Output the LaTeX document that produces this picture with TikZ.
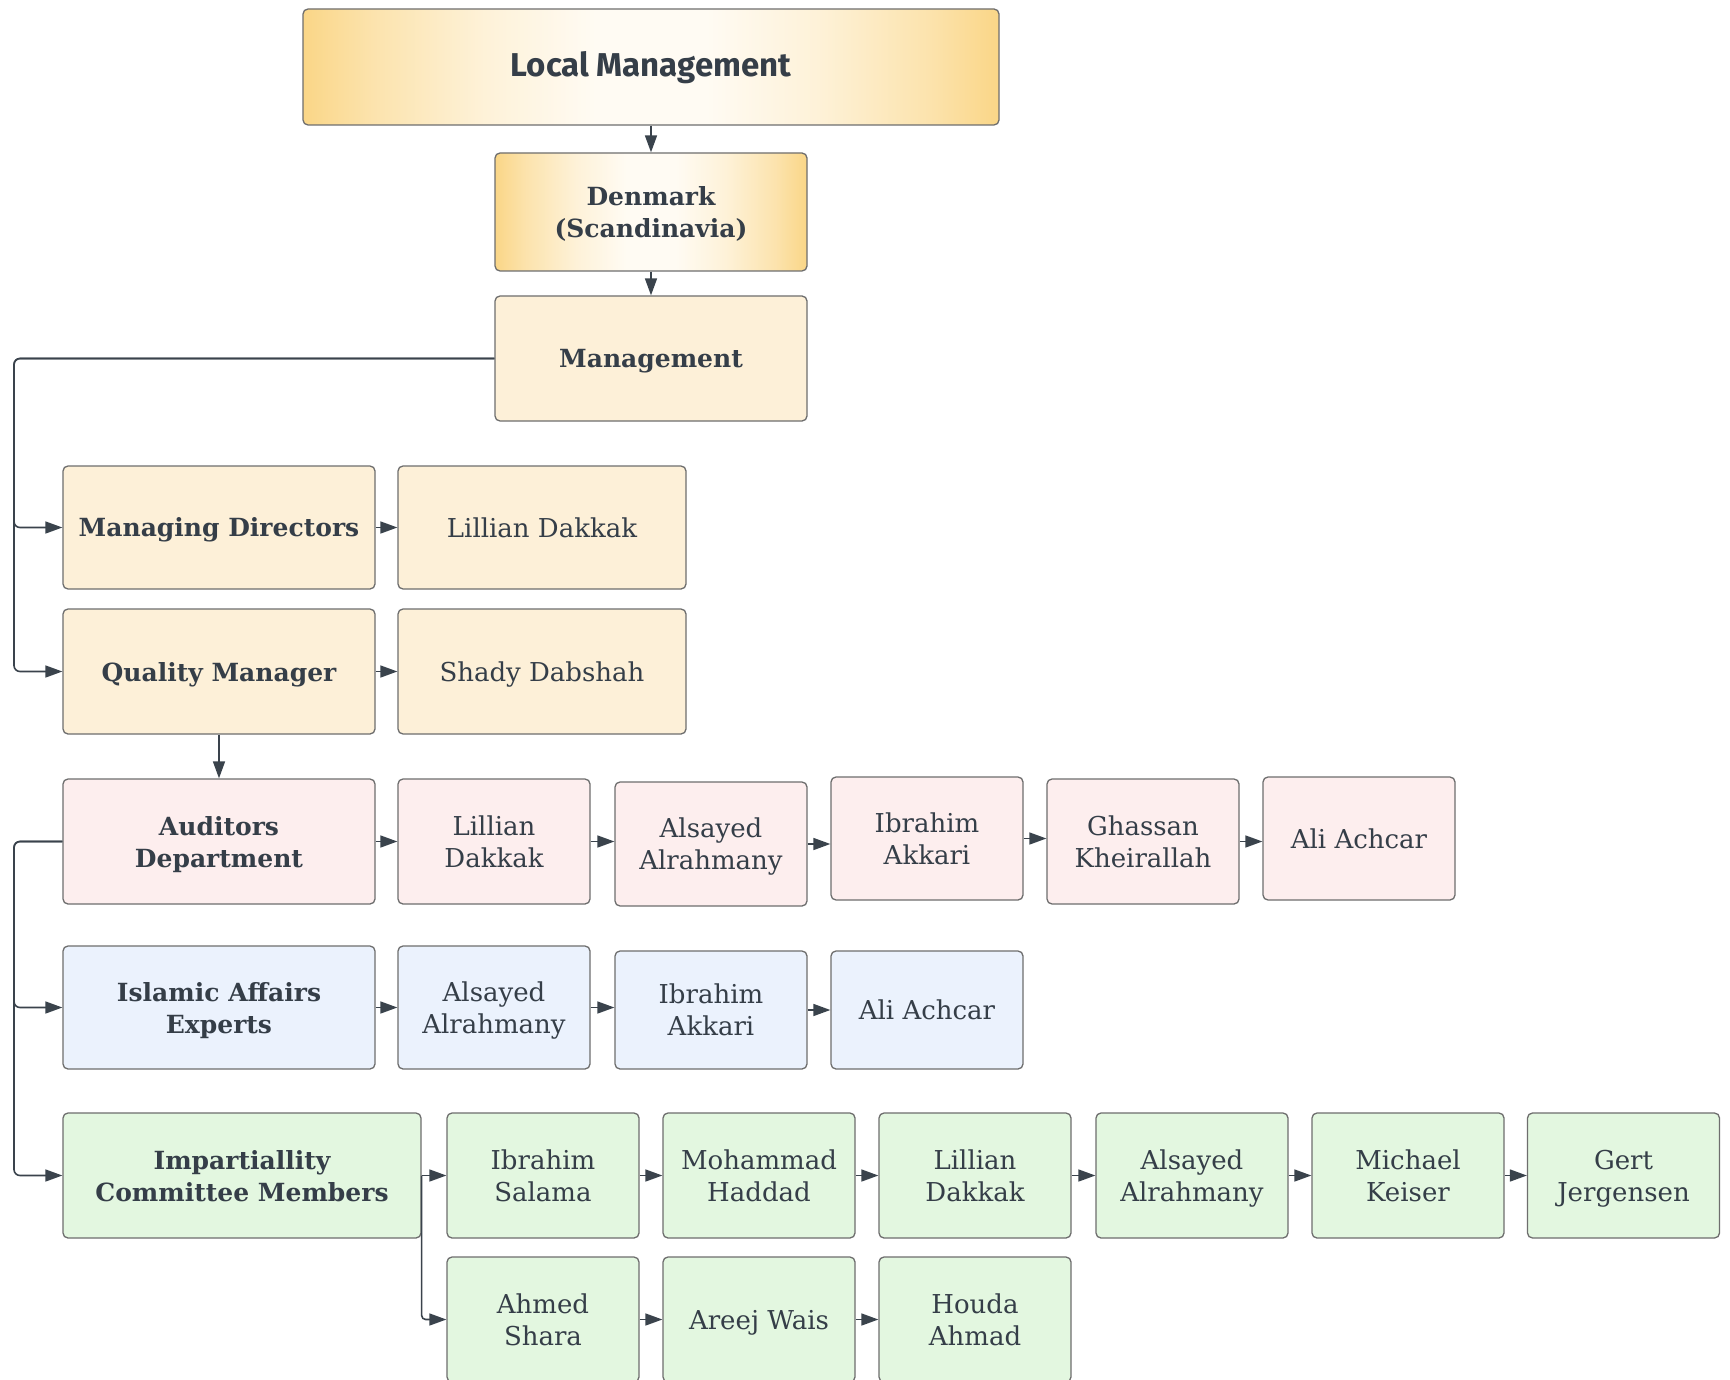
\documentclass[tikz,border=0pt]{standalone}
\usepackage{fontspec}
\setmainfont{DejaVu Serif}
\newfontfamily\titlefont{Fira Sans}
\usetikzlibrary{arrows.meta}

\definecolor{ink}{HTML}{353E48}
\definecolor{wire}{HTML}{3A434C}
\definecolor{frame}{HTML}{6E6E6E}
\definecolor{gold}{HTML}{FAD687}
\definecolor{paleGold}{HTML}{FFFBF3}
\definecolor{cream}{HTML}{FDF0D8}
\definecolor{rose}{HTML}{FDEEEE}
\definecolor{sky}{HTML}{EBF2FD}
\definecolor{mint}{HTML}{E3F7E0}

% soft gold-to-white-to-gold band, flat and light in the middle
\pgfdeclarehorizontalshading{goldband}{100bp}{%
  color(0bp)=(gold); color(25bp)=(gold);
  color(30bp)=(gold!65!paleGold); color(38bp)=(gold!25!paleGold);
  color(46bp)=(paleGold); color(54bp)=(paleGold);
  color(62bp)=(gold!25!paleGold); color(70bp)=(gold!65!paleGold);
  color(75bp)=(gold); color(100bp)=(gold)}

\tikzset{
  box/.style={draw=frame, line width=1.3pt, rounded corners=5pt, inner sep=0pt,
    align=center, text=ink, text depth=0pt, font=\fontsize{26}{32}\selectfont},
  head/.style={box, font=\bfseries\fontsize{25}{32}\selectfont},
  goldbox/.style={shading=goldband},
  arr/.style={draw=wire, line width=1.6pt, -{Triangle[length=17pt,width=12pt]}},
}

\begin{document}
\begin{tikzpicture}[x=1pt, y=-1pt]
\clip (0,0) rectangle (1730,1380);
\fill[white] (0,0) rectangle (1730,1380);

% top of the hierarchy
\node[box, goldbox, minimum width=696, minimum height=116, text depth=6pt,
      font=\titlefont\bfseries\fontsize{33}{38}\selectfont] (lm) at (651,67) {Local Management};
\node[head, goldbox, minimum width=312, minimum height=118] (dk) at (651,212) {Denmark\\(Scandinavia)};
\node[head, fill=cream, minimum width=312, minimum height=125] (mg) at (651,358.5) {Management};

% directors and quality
\node[head, fill=cream, minimum width=312, minimum height=123] (md) at (219,527.5) {Managing Directors};
\node[box, fill=cream, minimum width=288, minimum height=123] (mdp) at (542,527.5) {Lillian Dakkak};
\node[head, fill=cream, minimum width=312, minimum height=125] (qm) at (219,671.5) {Quality Manager};
\node[box, fill=cream, minimum width=288, minimum height=125] (qmp) at (542,671.5) {Shady Dabshah};

% auditors
\node[head, fill=rose, minimum width=312, minimum height=125] (ad) at (219,841.5) {Auditors\\Department};
\node[box, fill=rose, minimum width=192, minimum height=125] (a1) at (494,841.5) {Lillian\\Dakkak};
\node[box, fill=rose, minimum width=192, minimum height=124] (a2) at (711,844) {Alsayed\\Alrahmany};
\node[box, fill=rose, minimum width=192, minimum height=123] (a3) at (927,838.5) {Ibrahim\\Akkari};
\node[box, fill=rose, minimum width=192, minimum height=125] (a4) at (1143,841.5) {Ghassan\\Kheirallah};
\node[box, fill=rose, minimum width=192, minimum height=123] (a5) at (1359,838.5) {Ali Achcar};

% islamic affairs
\node[head, fill=sky, minimum width=312, minimum height=123] (ie) at (219,1007.5) {Islamic Affairs\\Experts};
\node[box, fill=sky, minimum width=192, minimum height=123] (i1) at (494,1007.5) {Alsayed\\Alrahmany};
\node[box, fill=sky, minimum width=192, minimum height=118] (i2) at (711,1010) {Ibrahim\\Akkari};
\node[box, fill=sky, minimum width=192, minimum height=118] (i3) at (927,1010) {Ali Achcar};

% impartiality committee
\node[head, fill=mint, minimum width=358, minimum height=125] (ic) at (242,1175.5) {Impartiallity\\Committee Members};
\node[box, fill=mint, minimum width=192, minimum height=125] (c1) at (543,1175.5) {Ibrahim\\Salama};
\node[box, fill=mint, minimum width=192, minimum height=125] (c2) at (759,1175.5) {Mohammad\\Haddad};
\node[box, fill=mint, minimum width=192, minimum height=125] (c3) at (975,1175.5) {Lillian\\Dakkak};
\node[box, fill=mint, minimum width=192, minimum height=125] (c4) at (1192,1175.5) {Alsayed\\Alrahmany};
\node[box, fill=mint, minimum width=192, minimum height=125] (c5) at (1408,1175.5) {Michael\\Keiser};
\node[box, fill=mint, minimum width=192, minimum height=125] (c6) at (1623.5,1175.5) {Gert\\Jergensen};
\node[box, fill=mint, minimum width=192, minimum height=125] (d1) at (543,1319.5) {Ahmed\\Shara};
\node[box, fill=mint, minimum width=192, minimum height=125] (d2) at (759,1319.5) {Areej Wais};
\node[box, fill=mint, minimum width=192, minimum height=125] (d3) at (975,1319.5) {Houda\\Ahmad};

% left-hand bus
\coordinate (bus) at (14,0);

% connectors
\draw[arr] (lm) -- (dk);
\draw[arr] (dk) -- (mg);
\draw[arr, rounded corners=6pt] (mg.west) -- (mg.west -| bus) |- (md.west);
\draw[arr, rounded corners=6pt] (mg.west) -- (mg.west -| bus) |- (qm.west);
\draw[arr] (md) -- (mdp);
\draw[arr] (qm) -- (qmp);
\draw[arr] (qm) -- (ad);

\draw[arr] (ad.east) -- (ad.east -| a1.west);
\draw[arr] (a1.east) -- (a1.east -| a2.west);
\draw[arr] (a2.east) -- (a2.east -| a3.west);
\draw[arr] (a3.east) -- (a3.east -| a4.west);
\draw[arr] (a4.east) -- (a4.east -| a5.west);

\draw[arr, rounded corners=6pt] (ad.west) -- (ad.west -| bus) |- (ie.west);
\draw[arr, rounded corners=6pt] (ad.west) -- (ad.west -| bus) |- (ic.west);

\draw[arr] (ie.east) -- (ie.east -| i1.west);
\draw[arr] (i1.east) -- (i1.east -| i2.west);
\draw[arr] (i2.east) -- (i2.east -| i3.west);

\draw[arr] (ic.east) -- (c1.west);
\draw[arr] (c1) -- (c2);
\draw[arr] (c2) -- (c3);
\draw[arr] (c3) -- (c4);
\draw[arr] (c4) -- (c5);
\draw[arr] (c5) -- (c6);
\draw[arr, rounded corners=4pt] (ic.east) |- (d1.west);
\draw[arr] (d1) -- (d2);
\draw[arr] (d2) -- (d3);
\end{tikzpicture}
\end{document}
